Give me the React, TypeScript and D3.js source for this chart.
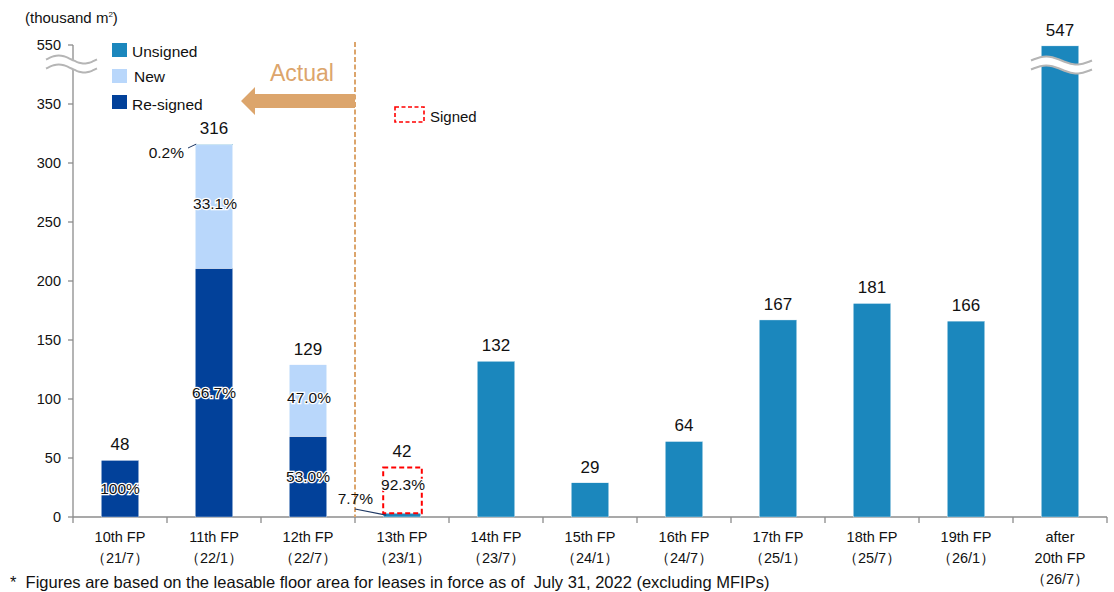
import React from "react";
import * as d3 from "d3";

const categories = ["10th FP", "11th FP", "12th FP", "13th FP", "14th FP", "15th FP", "16th FP", "17th FP", "18th FP", "19th FP", "after|20th FP"];
const periods = ["（21/7）", "（22/1）", "（22/7）", "（23/1）", "（23/7）", "（24/1）", "（24/7）", "（25/1）", "（25/7）", "（26/1）", "（26/7）"];
const reSigned = [48, 210.8, 68.4, 0, 0, 0, 0, 0, 0, 0, 0];
const newLeases = [0, 104.6, 60.6, 0, 0, 0, 0, 0, 0, 0, 0];
const unsigned = [0, 0.6, 0, 3.2, 132, 29, 64, 167, 181, 166, 547];
const signed = [0, 0, 0, 38.8, 0, 0, 0, 0, 0, 0, 0];
const totals = [48, 316, 129, 42, 132, 29, 64, 167, 181, 166, 547];
const reSignedPct = ["100%", "66.7%", "53.0%", "", "", "", "", "", "", "", ""];
const newPct = ["", "33.1%", "47.0%", "", "", "", "", "", "", "", ""];
const yTicks = [0, 50, 100, 150, 200, 250, 300, 350];
const breakTickValue = 550;

const FONT = "'Liberation Sans', Arial, sans-serif";
const C_UNS = "#1b87bd";
const C_NEW = "#b9d7fb";
const C_RES = "#02419a";
const C_ACT = "#dca56c";

// broken axis: values above 350 compressed (200 units -> 50)
const disp = (v: number) => (v <= 350 ? v : 350 + (v - 350) * 0.25);

export default function App() {
  const x0 = 73, x1 = 1107, y0 = 517, yTop = 45;
  const x = d3.scaleBand<string>().domain(categories).range([x0, x1]);
  const y = d3.scaleLinear().domain([0, disp(breakTickValue)]).range([y0, yTop]);
  const bw = x.bandwidth() * 0.4;
  const cx = (i: number) => (x(categories[i]) as number) + x.bandwidth() / 2;

  const wave = (xa: number, xb: number, yc: number) => {
    const pts: [number, number][] = d3.range(0, 1.0001, 0.05).map((t) => [xa + (xb - xa) * t, yc - 4 * Math.sin(t * Math.PI * 2)]);
    return pts;
  };
  const line = d3.line<[number, number]>().curve(d3.curveBasis);
  const breakShape = (xa: number, xb: number, yc: number, gap: number) => {
    const top = wave(xa, xb, yc - gap / 2);
    const bot = wave(xa, xb, yc + gap / 2);
    const area = [...top, ...bot.slice().reverse()];
    return (
      <g>
        <path d={(d3.line<[number, number]>()(area) as string) + "Z"} fill="#fff" stroke="none" />
        <path d={line(top) as string} fill="none" stroke="#b5b5b5" strokeWidth={2} />
        <path d={line(bot) as string} fill="none" stroke="#b5b5b5" strokeWidth={2} />
      </g>
    );
  };

  const pctStyle = { fontSize: 15.5, fontFamily: FONT, fill: "#111", stroke: "#fff", strokeWidth: 2.5, paintOrder: "stroke" as const, textAnchor: "middle" as const };

  return (
    <svg width={1114} height={592} style={{ position: "absolute", left: 0, top: 0, background: "#fff" }} fontFamily={FONT}>
      {/* unit label */}
      <text x={25} y={23} fontSize={15} fill="#111">
        (thousand m<tspan dy={-6} fontSize={8}>2</tspan><tspan dy={6}>)</tspan>
      </text>

      {/* y axis */}
      <line x1={x0} x2={x0} y1={yTop} y2={y0} stroke="#8c8c8c" strokeWidth={1.3} />
      {yTicks.map((t) => (
        <g key={t}>
          <line x1={x0 - 5} x2={x0} y1={y(t)} y2={y(t)} stroke="#8c8c8c" strokeWidth={1.3} />
          <text x={61} y={y(t) + 5} fontSize={14.5} textAnchor="end" fill="#111">{t}</text>
        </g>
      ))}
      <line x1={x0 - 5} x2={x0} y1={y(disp(breakTickValue))} y2={y(disp(breakTickValue))} stroke="#8c8c8c" strokeWidth={1.3} />
      <text x={61} y={y(disp(breakTickValue)) + 5} fontSize={14.5} textAnchor="end" fill="#111">{breakTickValue}</text>

      {/* x axis */}
      <line x1={x0} x2={x1} y1={y0} y2={y0} stroke="#8c8c8c" strokeWidth={1.3} />
      {[...categories.map((c) => x(c) as number), x1].map((v, i) => (
        <line key={i} x1={v} x2={v} y1={y0} y2={y0 + 6} stroke="#8c8c8c" strokeWidth={1.3} />
      ))}

      {/* actual divider */}
      <line x1={x(categories[3]) as number} x2={x(categories[3]) as number} y1={42} y2={y0} stroke={C_ACT} strokeWidth={2} strokeDasharray="5,2.5" />
      <path d={`M355,94 L255,94 L255,87 L241,101 L255,115 L255,108 L355,108 Z`} fill={C_ACT} />
      <text x={302} y={81} fontSize={23} fill={C_ACT} textAnchor="middle">Actual</text>

      {/* bars */}
      {categories.map((c, i) => {
        const left = cx(i) - bw / 2;
        const segs = [
          { v0: 0, v1: reSigned[i], col: C_RES },
          { v0: reSigned[i], v1: reSigned[i] + newLeases[i], col: C_NEW },
          { v0: reSigned[i] + newLeases[i], v1: reSigned[i] + newLeases[i] + unsigned[i], col: C_UNS },
        ];
        return (
          <g key={c}>
            {segs.filter((s) => s.v1 > s.v0).map((s, k) => (
              <rect key={k} x={left} width={bw} y={y(disp(s.v1))} height={y(disp(s.v0)) - y(disp(s.v1))} fill={s.col} stroke="#fff" strokeWidth={0.4} />
            ))}
            {signed[i] > 0 && (
              <rect x={left} width={bw + 1} y={y(unsigned[i] + signed[i])} height={y(unsigned[i]) - y(unsigned[i] + signed[i])} fill="none" stroke="#ff0000" strokeWidth={2} strokeDasharray="5,3" />
            )}
            <text x={cx(i)} y={y(disp(totals[i])) - 10} fontSize={17} textAnchor="middle" fill="#111">{totals[i]}</text>
            {reSignedPct[i] && <text x={cx(i)} y={y(reSigned[i] / 2) + 5.5} style={pctStyle}>{reSignedPct[i]}</text>}
            {newPct[i] && <text x={cx(i) + 1} y={y(reSigned[i] + newLeases[i] / 2) + 2} style={pctStyle}>{newPct[i]}</text>}
          </g>
        );
      })}

      {/* 11th FP unsigned 0.2% */}
      <line x1={188} y1={148} x2={cx(1) - bw / 2 + 1} y2={y(reSigned[1] + newLeases[1] + unsigned[1])} stroke="#1f3864" strokeWidth={1} />
      <text x={184} y={158} fontSize={15.5} textAnchor="end" fill="#111">0.2%</text>
      {/* 13th FP labels */}
      <line x1={355} y1={509} x2={cx(3) - bw / 2 + 3} y2={y(unsigned[3] / 2)} stroke="#1f3864" strokeWidth={1.2} />
      <text x={373} y={504} fontSize={15.5} textAnchor="end" fill="#111">7.7%</text>
      <text x={cx(3) + 1} y={490} style={pctStyle}>92.3%</text>

      {/* axis break squiggles */}
      {breakShape(46, 97, 64, 9)}
      {breakShape(1031, 1092, 65, 9)}

      {/* category labels */}
      {categories.map((c, i) => {
        const lines = [...c.split("|"), periods[i]];
        return (
          <text key={c} x={cx(i)} fontSize={14.5} textAnchor="middle" fill="#111">
            {lines.map((l, k) => (
              <tspan key={k} x={cx(i)} y={542 + k * 21}>{l}</tspan>
            ))}
          </text>
        );
      })}

      {/* legend */}
      <rect x={112} y={43} width={15} height={14} fill={C_UNS} />
      <text x={132} y={57} fontSize={15.5} fill="#111">Unsigned</text>
      <rect x={112} y={69} width={15} height={14} fill={C_NEW} />
      <text x={134} y={82} fontSize={15.5} fill="#111">New</text>
      <rect x={112} y={95} width={15} height={14} fill={C_RES} />
      <text x={132} y={110} fontSize={15.5} fill="#111">Re-signed</text>
      <rect x={395} y={107} width={29} height={15} fill="none" stroke="#ff0000" strokeWidth={1.6} strokeDasharray="4,2.5" />
      <text x={430} y={122} fontSize={15} fill="#111">Signed</text>

      {/* footnote */}
      <text x={10} y={588} fontSize={16.5} fill="#111" style={{ whiteSpace: "pre" }}>{"*  Figures are based on the leasable floor area for leases in force as of  July 31, 2022 (excluding MFIPs)"}</text>
    </svg>
  );
}
